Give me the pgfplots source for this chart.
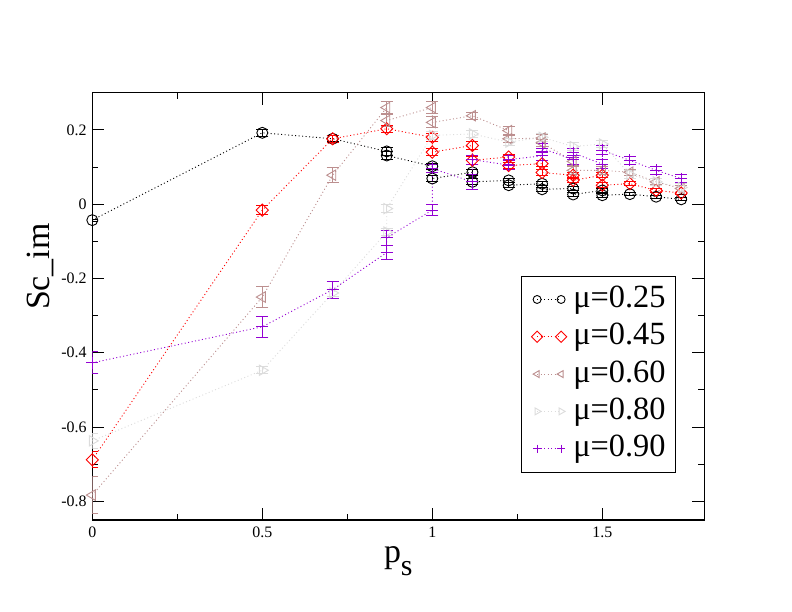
\documentclass[border=0pt]{standalone}
\usepackage{fontspec}
\setmainfont{Liberation Serif}
\usepackage{pgfplots}
\pgfplotsset{compat=1.18}
\definecolor{gbrown}{RGB}{188,143,143}
\definecolor{ggrey}{RGB}{220,220,220}
\definecolor{gviolet}{RGB}{148,0,211}
\pgfplotsset{
  gline/.style={line width=0.9bp, dash pattern=on 1bp off 2.5bp},
  gerr/.style={error bars/.cd, y dir=both, y explicit,
    error bar style={solid, line width=1bp},
    error mark options={rotate=90, mark size=6bp, solid, line width=1bp}},
}
\begin{document}
\begin{tikzpicture}
\path[use as bounding box] (0,0) rectangle (792bp,612bp);
\begin{axis}[
  at={(92.3bp,92bp)}, anchor=south west,
  scale only axis, width=612bp, height=427.3bp,
  xmin=0, xmax=1.8, ymin=-0.85, ymax=0.3,
  xtick={0,0.5,1,1.5}, xticklabels={0,0.5,1,1.5},
  ytick={-0.8,-0.6,-0.4,-0.2,0,0.2}, yticklabels={-0.8,-0.6,-0.4,-0.2,0,0.2},
  minor x tick num=1, minor y tick num=1,
  tick align=inside, major tick length=12bp, minor tick length=6bp,
  every tick/.style={black, line width=1bp},
  axis line style={line width=1.1bp},
  ticklabel style={font=\fontsize{16}{16}\selectfont, inner sep=0pt},
  xticklabel style={anchor=north, yshift=-7bp},
  yticklabel style={anchor=east, xshift=-5.6bp},
  xlabel={p\raisebox{-13bp}{\fontsize{30}{30}\selectfont s}},
  xlabel style={at={(rel axis cs:0.5,-0.0983)}, anchor=base, font=\fontsize{34}{34}\selectfont, inner sep=0pt},
  ylabel={Sc\_im},
  ylabel style={at={(rel axis cs:-0.0699,0.593)}, anchor=base, rotate=0, font=\fontsize{34}{34}\selectfont, inner sep=0pt},
  legend style={at={(rel axis cs:0.953,0.572)}, anchor=north east, draw=black, line width=1bp,
    font=\fontsize{32.5}{32.5}\selectfont, inner xsep=9.5bp, inner ysep=9.4bp, row sep=9.3bp, column sep=6.5bp,
    nodes={inner sep=0pt, text height=22bp, text depth=6bp}},
  legend cell align=left,
  legend image code/.code={\draw[mark repeat=2, mark phase=1, #1, mark size=4bp] plot coordinates {(0bp,0bp) (12bp,0bp) (24bp,0bp)};},
]
\addplot[color=black, gline, mark=o, mark size=5.5bp, mark options={solid, line width=0.9bp}, gerr] coordinates {
(0,-0.043) +- (0,0.003)
(0.5,0.192) +- (0,0.01)
(0.7071,0.176) +- (0,0.008)
(0.8660,0.142) +- (0,0.01)
(0.8660,0.131) +- (0,0.01)
(1,0.102) +- (0,0.008)
(1,0.069) +- (0,0.008)
(1.1180,0.086) +- (0,0.008)
(1.1180,0.060) +- (0,0.008)
(1.2247,0.064) +- (0,0.006)
(1.2247,0.051) +- (0,0.006)
(1.3229,0.055) +- (0,0.006)
(1.3229,0.040) +- (0,0.006)
(1.4142,0.042) +- (0,0.005)
(1.4142,0.026) +- (0,0.005)
(1.5,0.037) +- (0,0.005)
(1.5,0.024) +- (0,0.005)
(1.5811,0.027) +- (0,0.004)
(1.6583,0.020) +- (0,0.004)
(1.7321,0.013) +- (0,0.004)
};
\addlegendentry{μ=0.25}
\addplot[color=red, gline, mark=square, mark size=4.3bp, mark options={solid, line width=0.9bp, rotate=45}, gerr] coordinates {
(0,-0.688) +- (0,0.022)
(0.5,-0.016) +- (0,0.012)
(0.7071,0.176) +- (0,0.01)
(0.8660,0.203) +- (0,0.01)
(1,0.180) +- (0,0.01)
(1,0.140) +- (0,0.01)
(1.1180,0.158) +- (0,0.01)
(1.1180,0.118) +- (0,0.01)
(1.2247,0.127) +- (0,0.008)
(1.2247,0.104) +- (0,0.008)
(1.3229,0.109) +- (0,0.008)
(1.3229,0.085) +- (0,0.008)
(1.4142,0.078) +- (0,0.006)
(1.4142,0.064) +- (0,0.006)
(1.5,0.078) +- (0,0.006)
(1.5,0.051) +- (0,0.006)
(1.5811,0.055) +- (0,0.005)
(1.6583,0.037) +- (0,0.005)
(1.7321,0.030) +- (0,0.005)
};
\addlegendentry{μ=0.45}
\addplot[color=gbrown, gline, mark=triangle, mark size=6bp, mark options={solid, line width=0.9bp, rotate=90}, gerr] coordinates {
(0,-0.783) +- (0,0.05)
(0.5,-0.250) +- (0,0.028)
(0.7071,0.078) +- (0,0.02)
(0.8660,0.260) +- (0,0.015)
(0.8660,0.225) +- (0,0.015)
(1,0.260) +- (0,0.015)
(1,0.220) +- (0,0.015)
(1.1180,0.238) +- (0,0.01)
(1.2247,0.198) +- (0,0.01)
(1.2247,0.176) +- (0,0.01)
(1.3229,0.178) +- (0,0.01)
(1.3229,0.165) +- (0,0.01)
(1.4142,0.115) +- (0,0.01)
(1.4142,0.091) +- (0,0.01)
(1.5,0.091) +- (0,0.01)
(1.5811,0.086) +- (0,0.008)
(1.6583,0.060) +- (0,0.008)
(1.7321,0.042) +- (0,0.008)
};
\addlegendentry{μ=0.60}
\addplot[color=ggrey, gline, mark=triangle, mark size=6bp, mark options={solid, line width=0.9bp, rotate=-90}, gerr] coordinates {
(0,-0.637) +- (0,0.02)
(0.5,-0.447) +- (0,0.01)
(0.7071,-0.239) +- (0,0.01)
(0.8660,-0.075) +- (0,0.01)
(0.8660,-0.012) +- (0,0.01)
(1,0.185) +- (0,0.01)
(1.1180,0.189) +- (0,0.01)
(1.2247,0.167) +- (0,0.01)
(1.3229,0.180) +- (0,0.01)
(1.4142,0.155) +- (0,0.01)
(1.5,0.162) +- (0,0.01)
(1.5811,0.080) +- (0,0.01)
(1.6583,0.060) +- (0,0.01)
(1.7321,0.045) +- (0,0.01)
};
\addlegendentry{μ=0.80}
\addplot[color=gviolet, gline, mark=+, mark size=6bp, mark options={solid, line width=0.9bp}, gerr] coordinates {
(0,-0.427) +- (0,0.03)
(0.5,-0.330) +- (0,0.028)
(0.7071,-0.230) +- (0,0.023)
(0.8660,-0.130) +- (0,0.02)
(0.8660,-0.090) +- (0,0.02)
(1,-0.016) +- (0,0.015)
(1,0.096) +- (0,0.012)
(1.1180,0.060) +- (0,0.02)
(1.1180,0.120) +- (0,0.012)
(1.2247,0.105) +- (0,0.012)
(1.2247,0.120) +- (0,0.012)
(1.3229,0.130) +- (0,0.012)
(1.3229,0.150) +- (0,0.012)
(1.4142,0.120) +- (0,0.012)
(1.4142,0.138) +- (0,0.012)
(1.5,0.108) +- (0,0.012)
(1.5,0.145) +- (0,0.012)
(1.5811,0.118) +- (0,0.01)
(1.6583,0.091) +- (0,0.01)
(1.7321,0.069) +- (0,0.01)
};
\addlegendentry{μ=0.90}
\end{axis}
\end{tikzpicture}
\end{document}
